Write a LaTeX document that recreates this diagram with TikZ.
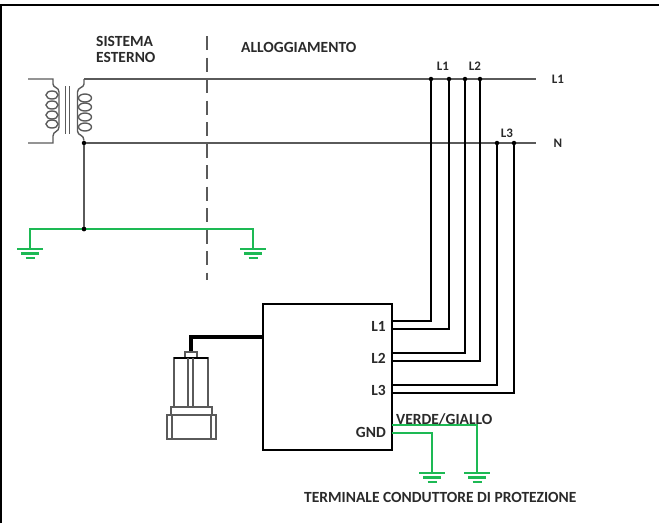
\documentclass[tikz,border=0pt]{standalone}
\usepackage{fontspec}
\setmainfont{Carlito}
\definecolor{earthGreen}{HTML}{1DB954}
\definecolor{textDark}{HTML}{2A2A2A}
\definecolor{mainsGray}{HTML}{5A5A5A}
\begin{document}
\begin{tikzpicture}[
      x=1pt, y=-1pt,
      frameLine/.style={black,line width=2pt},
      mainsLine/.style={mainsGray,line width=1.5pt},
      coilLine/.style={mainsGray,line width=1.4pt},
      phaseWire/.style={black,line width=2pt},
      earthWire/.style={earthGreen,line width=2.6pt},
      sensorLine/.style={mainsGray,line width=1.4pt},
      boundaryLine/.style={mainsGray,line width=1.7pt,dash pattern=on 14pt off 7.5pt},
      junctionDot/.style={circle,fill=black,inner sep=0pt,minimum size=4.5pt},
      labelText/.style={font=\fontsize{15.5}{16}\selectfont\bfseries,text=textDark,inner sep=0pt,align=left},
      tagText/.style={labelText,font=\fontsize{13}{14}\selectfont\bfseries},
      portText/.style={labelText,anchor=east},
      unitBox/.style={draw=black,line width=1.9pt,minimum width=129pt,minimum height=146pt,inner sep=0pt},
    ]
    \useasboundingbox (0,0) rectangle (659,523);

    \draw[frameLine] (1,523) -- (1,5) -- (659,5);

    % mains
    \node[junctionDot] (neutralStar) at (84,143) {};
    \node[junctionDot] (earthStar) at (84,229) {};
    \coordinate (lineEnd) at (536,79);
    \coordinate (neutralEnd) at (536,143);
    \coordinate (lineStart) at (84,79);
    \draw[mainsLine] (lineStart) -- (lineEnd);
    \draw[mainsLine] (neutralStar) -- (neutralEnd);
    \draw[mainsLine] (neutralStar) -- (earthStar);

    % transformer
    \draw[coilLine] (28,79) -- (53,79) -- (53,84) .. controls (53,88) and (59,87) .. (59,92)
      -- (59,127) .. controls (59,132) and (53,131) .. (53,136) -- (53,143) -- (28,143);
    \foreach \yy in {95,105,115,124} {
      \draw[coilLine] (52,\yy) ellipse (6pt and 4pt);
    }
    \draw[coilLine] (65.5,86) -- (65.5,134);
    \draw[coilLine] (69.5,86) -- (69.5,134);
    \draw[coilLine] (lineStart) -- (84,84) .. controls (84,88) and (77.5,87) .. (77.5,92)
      -- (77.5,131) .. controls (77.5,136) and (84,134) .. (neutralStar);
    \foreach \yy in {98,107,117,127} {
      \draw[coilLine] (85,\yy) ellipse (6.5pt and 4pt);
    }

    % earth outside
    \coordinate (gndLeft) at (30,249);
    \coordinate (gndRight) at (253,249);
    \draw[earthWire] (gndLeft) |- (earthStar) -| (gndRight);
    \node[junctionDot] (earthStarTop) at (earthStar) {};
    \draw[boundaryLine] (207,36) -- (207,280);

    % unit
    \node[unitBox] (unit) at (327.5,377) {};
    \node[portText] (portTextA) at (386,326) {L1};
    \node[portText] (portTextB) at (386,358) {L2};
    \node[portText] (portTextC) at (386,390) {L3};
    \node[portText] (portTextD) at (386,432) {GND};

    % phase wires
    \foreach \nm/\xx/\yy/\yb in {a/431/79/321,b/449/79/329,c/465/79/353,d/480/79/361,e/497/143/385,f/514/143/393} {
      \node[junctionDot] (tap\nm) at (\xx,\yy) {};
      \coordinate (port\nm) at (392,\yb);
      \draw[phaseWire] (tap\nm) |- (port\nm);
    }

    % earth inside
    \coordinate (portEarthA) at (392,425);
    \coordinate (portEarthB) at (392,433);
    \coordinate (gndUnitA) at (432,473);
    \coordinate (gndUnitB) at (477,473);
    \draw[earthWire] (portEarthA) -| (gndUnitB);
    \draw[earthWire] (portEarthB) -| (gndUnitA);

    % earth symbols
    \foreach \gnd in {gndLeft,gndRight,gndUnitA,gndUnitB} {
      \begin{scope}[shift={(\gnd)}]
        \draw[earthWire] (-13,0) -- (13,0);
        \draw[earthWire] (-9,4.5) -- (9,4.5);
        \draw[earthWire] (-4.5,9) -- (4.5,9);
      \end{scope}
    }

    % sensor
    \coordinate (sensorTop) at (191,352);
    \draw[black,line width=3.6pt] (unit.west |- 0,337) -| (sensorTop);
    \draw[sensorLine,fill=white] (185,352) rectangle (197,358);
    \draw[sensorLine] (174,358) rectangle (208,407);
    \draw[black,line width=2pt] (174,358) -- (208,358);
    \draw[sensorLine] (188,358) -- (188,407);
    \draw[sensorLine] (193,358) -- (193,407);
    \draw[sensorLine] (171,407) rectangle (212,415);
    \draw[sensorLine] (167,415) rectangle (216,439);
    \draw[sensorLine] (172,415) -- (172,439);
    \draw[sensorLine] (211,415) -- (211,439);

    % texts
    \node[labelText,anchor=west] (extLabel) at (96,49) {SISTEMA\\ESTERNO};
    \node[labelText,anchor=west] (caseLabel) at (241,47) {ALLOGGIAMENTO};
    \node[tagText] (tagLa) at (443,66) {L1};
    \node[tagText] (tagLb) at (475,66) {L2};
    \node[tagText] (tagLc) at (507,133) {L3};
    \node[tagText] (lineLabel) at (558,79) {L1};
    \node[tagText] (neutralLabel) at (558,143) {N};
    \node[labelText,anchor=west] (wireLabel) at (396,419) {VERDE/GIALLO};
    \node[labelText,anchor=west] (peLabel) at (304,497) {TERMINALE CONDUTTORE DI PROTEZIONE};
\end{tikzpicture}
\end{document}
